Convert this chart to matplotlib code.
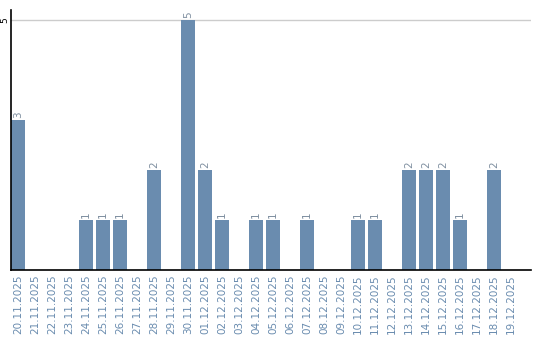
import matplotlib
matplotlib.use("Agg")
import matplotlib.pyplot as plt

# Daten
dates = ["20.11.2025", "21.11.2025", "22.11.2025", "23.11.2025", "24.11.2025",
         "25.11.2025", "26.11.2025", "27.11.2025", "28.11.2025", "29.11.2025",
         "30.11.2025", "01.12.2025", "02.12.2025", "03.12.2025", "04.12.2025",
         "05.12.2025", "06.12.2025", "07.12.2025", "08.12.2025", "09.12.2025",
         "10.12.2025", "11.12.2025", "12.12.2025", "13.12.2025", "14.12.2025",
         "15.12.2025", "16.12.2025", "17.12.2025", "18.12.2025", "19.12.2025"]
counts = [3, 0, 0, 0, 1, 1, 1, 0, 2, 0,
          5, 2, 1, 0, 1, 1, 0, 1, 0, 0,
          1, 1, 0, 2, 2, 2, 1, 0, 2, 0]
yticks = [5]

bar_color = "#6a8caf"
text_color = "#6a8caf"

fig = plt.figure(figsize=(5.4, 3.4), dpi=100)
ax = fig.add_axes([11 / 540, 1 - 270 / 340, 520 / 540, 260 / 340])

x = list(range(len(dates)))
ax.bar(x, counts, width=0.82, color=bar_color, zorder=2)

for xi, c in zip(x, counts):
    if c > 0:
        ax.text(xi, c + 0.04, str(c), rotation=90, ha="center", va="bottom",
                fontsize=7.5, color="#7f8fa0")

ax.set_xlim(-0.41, 30.18)
ax.set_ylim(0, 5.2)
ax.set_xticks(x)
ax.set_xticklabels(dates, rotation=90, fontsize=7.5, color=text_color)
ax.set_yticks(yticks)
ax.set_yticklabels([str(v) for v in yticks], rotation=90, fontsize=6.5,
                   va="center")
ax.tick_params(axis="x", length=0, pad=3)
ax.tick_params(axis="y", length=0, pad=1)
ax.yaxis.grid(True, color="#cccccc", linewidth=1, zorder=0)

for side in ["top", "right"]:
    ax.spines[side].set_visible(False)
ax.spines["left"].set_linewidth(1.2)
ax.spines["bottom"].set_linewidth(1.2)

fig.savefig("out.png", dpi=100)
